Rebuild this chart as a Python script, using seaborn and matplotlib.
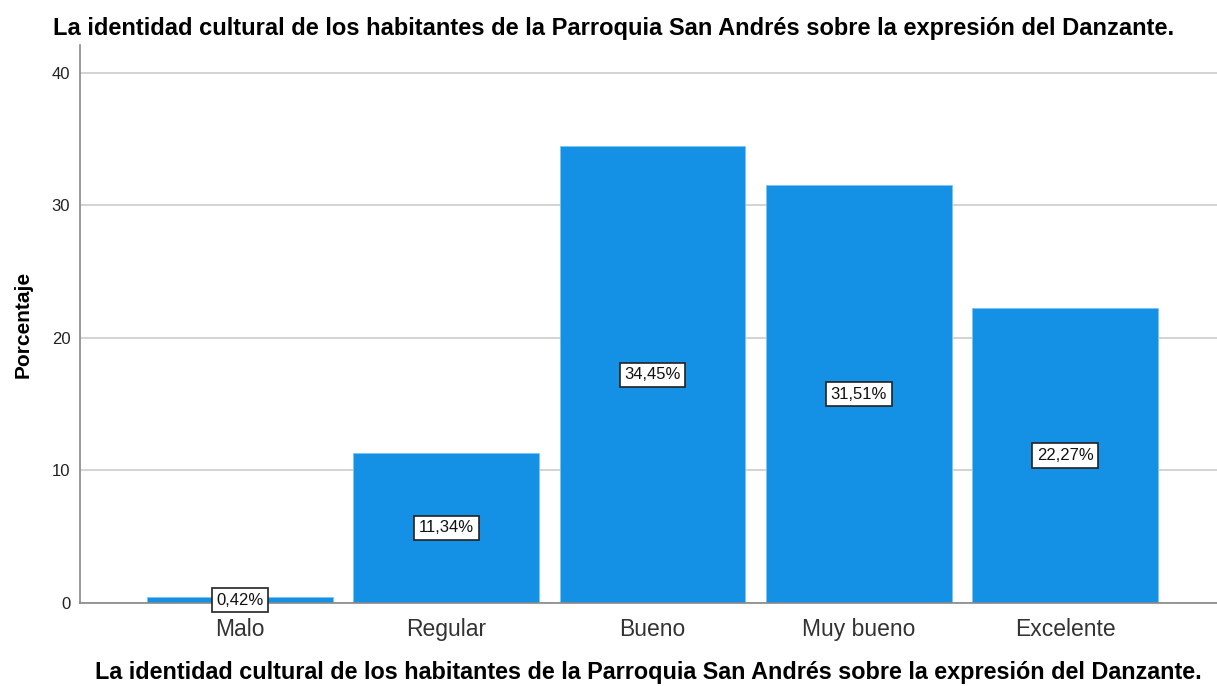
import matplotlib
matplotlib.use("Agg")
import matplotlib.pyplot as plt
import seaborn as sns
import pandas as pd

categories = ["Malo", "Regular", "Bueno", "Muy bueno", "Excelente"]
values = [0.42, 11.34, 34.45, 31.51, 22.27]
labels = ["0,42%", "11,34%", "34,45%", "31,51%", "22,27%"]
yticks = [0, 10, 20, 30, 40]
title = "La identidad cultural de los habitantes de la Parroquia San Andrés sobre la expresión del Danzante."

sns.set_style("white")
plt.rcParams['font.family'] = ['Liberation Sans', 'DejaVu Sans']

df = pd.DataFrame({"cat": categories, "val": values})

fig = plt.figure(figsize=(12.17, 6.86), dpi=100)
ax = fig.add_axes([80/1217, 1-603/686, (1217-80)/1217, (603-45)/686])

sns.barplot(data=df, x="cat", y="val", order=categories, color="#1491E5",
            saturation=1, width=0.9, edgecolor="#7cc4f2", linewidth=0.6, ax=ax, zorder=2)

ax.set_xlim(-0.776, 4.737)
ax.set_ylim(0, 42.1)
ax.set_yticks(yticks)
ax.set_yticklabels([str(t) for t in yticks], fontsize=12, color="#222222")
ax.yaxis.grid(True, color="#d0d0d0", linewidth=1.3, zorder=0)
ax.set_axisbelow(True)
ax.tick_params(axis='y', length=0, pad=7)
ax.tick_params(axis='x', length=0, pad=11, labelsize=16.5, labelcolor="#333333")

for s in ["top", "right"]:
    ax.spines[s].set_visible(False)
for s in ["left", "bottom"]:
    ax.spines[s].set_color("#888888")
    ax.spines[s].set_linewidth(1.2)

for i, (v, lab) in enumerate(zip(values, labels)):
    ax.text(i, v / 2, lab, ha="center", va="center", fontsize=12, color="#111111",
            bbox=dict(boxstyle="square,pad=0.28", facecolor="white", edgecolor="#222222", linewidth=1.2),
            zorder=5)

ax.set_ylabel("Porcentaje", fontsize=15, fontweight="bold", labelpad=14, color="black")
ax.set_xlabel(title, fontsize=16.8, fontweight="bold", labelpad=14, color="black")
fig.text(53/1217, 1-28/686, title, fontsize=17, fontweight="bold", ha="left", va="center", color="black")

fig.savefig("out.png", dpi=100)
